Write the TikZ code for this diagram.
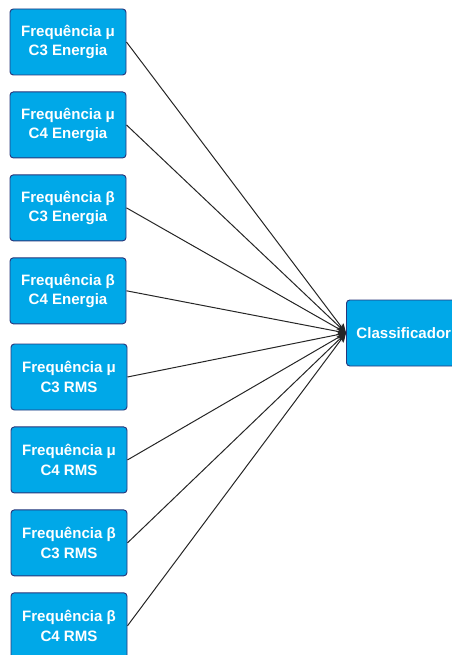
\documentclass[tikz,border=0pt]{standalone}
\usepackage{fontspec}
\setmainfont{Liberation Sans}
\usepackage{tikz}
\usetikzlibrary{positioning, arrows.meta}

\definecolor{boxfill}{HTML}{00A8E8}
\definecolor{boxline}{HTML}{28357A}

\tikzset{
    featbox/.style={draw=boxline, fill=boxfill, rounded corners=2.5pt, line width=0.7pt,
        minimum width=87pt, minimum height=49.5pt, align=center, text=white,
        font=\fontsize{11.3}{14.5}\selectfont\bfseries},
    link/.style={-{Stealth[length=7pt, width=6pt]}, line width=0.75pt, black!85}
}

\begin{document}
\begin{tikzpicture}[x=0.75pt, y=-0.75pt]
\useasboundingbox (0,0) rectangle (451,655);

    \node[featbox] (muCtresE) at (68,42) {Frequência μ\\C3 Energia};
    \node[featbox, below=12pt of muCtresE] (muCquatroE) {Frequência μ\\C4 Energia};
    \node[featbox, below=12pt of muCquatroE] (betaCtresE) {Frequência β\\C3 Energia};
    \node[featbox, below=12pt of betaCtresE] (betaCquatroE) {Frequência β\\C4 Energia};

    \node[featbox] (muCtresR) at (69,377) {Frequência μ\\C3 RMS};
    \node[featbox, below=12pt of muCtresR] (muCquatroR) {Frequência μ\\C4 RMS};
    \node[featbox, below=12pt of muCquatroR] (betaCtresR) {Frequência β\\C3 RMS};
    \node[featbox, below=12pt of betaCtresR] (betaCquatroR) {Frequência β\\C4 RMS};

    \node[featbox, anchor=west, inner xsep=7.5pt, text width=78pt, align=left] (classif) at (346,333) {Classificador};

    % ligacoes
    \draw[link] (muCtresE.east) -- (classif.west);
    \draw[link] (muCquatroE.east) -- (classif.west);
    \draw[link] (betaCtresE.east) -- (classif.west);
    \draw[link] (betaCquatroE.east) -- (classif.west);
    \draw[link] (muCtresR.east) -- (classif.west);
    \draw[link] (muCquatroR.east) -- (classif.west);
    \draw[link] (betaCtresR.east) -- (classif.west);
    \draw[link] (betaCquatroR.east) -- (classif.west);

\end{tikzpicture}
\end{document}
